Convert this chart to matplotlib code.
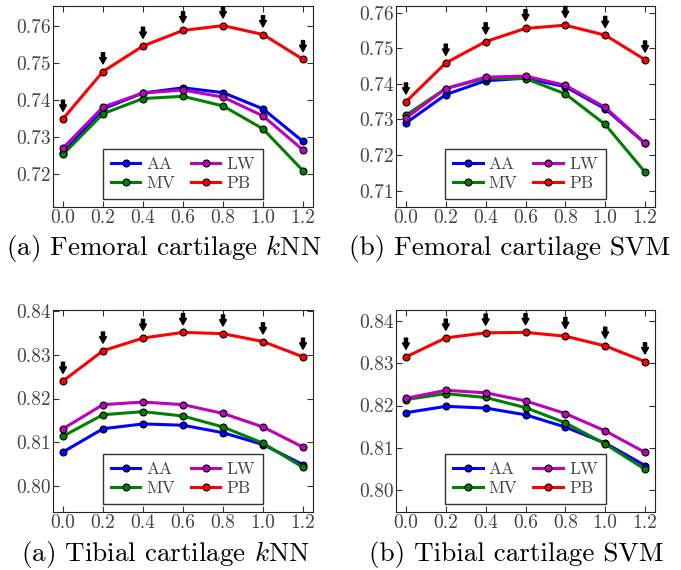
import numpy as np
import matplotlib
matplotlib.use("Agg")
import matplotlib.pyplot as plt

plt.rcParams["font.family"] = ["cmr10", "DejaVu Serif"]
plt.rcParams["mathtext.fontset"] = "cm"
plt.rcParams["axes.formatter.use_mathtext"] = True

# === данные ===
x = [0.0, 0.2, 0.4, 0.6, 0.8, 1.0, 1.2]
xticks = [0.0, 0.2, 0.4, 0.6, 0.8, 1.0, 1.2]

fem_knn_AA = [0.7257, 0.7376, 0.7419, 0.7433, 0.7420, 0.7376, 0.7288]
fem_knn_MV = [0.7253, 0.7363, 0.7404, 0.7410, 0.7384, 0.7322, 0.7209]
fem_knn_LW = [0.7270, 0.7381, 0.7419, 0.7427, 0.7408, 0.7357, 0.7265]
fem_knn_PB = [0.7349, 0.7477, 0.7546, 0.7588, 0.7601, 0.7577, 0.7510]

fem_svm_AA = [0.7290, 0.7370, 0.7409, 0.7416, 0.7392, 0.7330, 0.7233]
fem_svm_MV = [0.7312, 0.7387, 0.7416, 0.7415, 0.7372, 0.7286, 0.7152]
fem_svm_LW = [0.7304, 0.7387, 0.7419, 0.7422, 0.7396, 0.7334, 0.7233]
fem_svm_PB = [0.7350, 0.7459, 0.7519, 0.7556, 0.7565, 0.7537, 0.7468]

tib_knn_AA = [0.8078, 0.8131, 0.8142, 0.8139, 0.8122, 0.8095, 0.8049]
tib_knn_MV = [0.8114, 0.8163, 0.8170, 0.8160, 0.8135, 0.8098, 0.8043]
tib_knn_LW = [0.8131, 0.8186, 0.8192, 0.8186, 0.8166, 0.8135, 0.8089]
tib_knn_PB = [0.8240, 0.8309, 0.8338, 0.8351, 0.8348, 0.8330, 0.8295]

tib_svm_AA = [0.8183, 0.8198, 0.8194, 0.8178, 0.8149, 0.8111, 0.8058]
tib_svm_MV = [0.8214, 0.8228, 0.8219, 0.8195, 0.8159, 0.8109, 0.8049]
tib_svm_LW = [0.8217, 0.8236, 0.8230, 0.8211, 0.8181, 0.8140, 0.8089]
tib_svm_PB = [0.8315, 0.8360, 0.8372, 0.8373, 0.8364, 0.8341, 0.8304]

fem_knn_yticks = [0.72, 0.73, 0.74, 0.75, 0.76]
fem_svm_yticks = [0.71, 0.72, 0.73, 0.74, 0.75, 0.76]
tib_yticks = [0.80, 0.81, 0.82, 0.83, 0.84]

captions = [r"(a) Femoral cartilage $k$NN", "(b) Femoral cartilage SVM",
            r"(a) Tibial cartilage $k$NN", "(b) Tibial cartilage SVM"]

panels = [
    (fem_knn_AA, fem_knn_MV, fem_knn_LW, fem_knn_PB, fem_knn_yticks, (0.7111, 0.7654)),
    (fem_svm_AA, fem_svm_MV, fem_svm_LW, fem_svm_PB, fem_svm_yticks, (0.7054, 0.7619)),
    (tib_knn_AA, tib_knn_MV, tib_knn_LW, tib_knn_PB, tib_yticks, (0.7941, 0.8402)),
    (tib_svm_AA, tib_svm_MV, tib_svm_LW, tib_svm_PB, tib_yticks, (0.7948, 0.8426)),
]

# положение осей в пикселях (left, top, right, bottom)
boxes = [(53, 6, 313, 207), (396, 6, 655, 207), (53, 310, 313, 512), (396, 310, 655, 512)]
cap_pos = [(164, 248), (510, 248), (165, 554), (516, 554)]

W, H = 681, 570
fig = plt.figure(figsize=(W / 100, H / 100), dpi=100)

for i, (AA, MV, LW, PB, yt, ylim) in enumerate(panels):
    l, t, r, b = boxes[i]
    ax = fig.add_axes([l / W, 1 - b / H, (r - l) / W, (b - t) / H])
    kw = dict(lw=2.2, marker="o", ms=5, mec="black", mew=0.8)
    ax.plot(x, AA, color="blue", label="AA", **kw)
    ax.plot(x, MV, color="green", label="MV", **kw)
    ax.plot(x, LW, color="m", label="LW", **kw)
    ax.plot(x, PB, color="red", label="PB", **kw)

    # стрелки над PB
    for xi, yi in zip(x, PB):
        ax.annotate("", xy=(xi, yi), xytext=(0, 13.5), textcoords="offset points",
                    arrowprops=dict(arrowstyle="simple,head_width=0.55,head_length=0.5,tail_width=0.25",
                                    color="black", shrinkA=0, shrinkB=5.5, mutation_scale=9))

    ax.set_xlim(-0.05, 1.25)
    ax.set_ylim(*ylim)
    ax.set_xticks(xticks)
    ax.set_xticklabels(["%.1f" % v for v in xticks])
    ax.set_yticks(yt)
    ax.set_yticklabels(["%.2f" % v for v in yt])
    ax.tick_params(direction="in", top=True, right=True, length=4, pad=1.5,
                   labelsize=14, labelcolor="#444444", color="#333333")
    for s in ax.spines.values():
        s.set_color("#222222")

    leg = ax.legend(loc="lower center", ncol=2, fontsize=12.5, fancybox=False,
                    handlelength=1.7, columnspacing=0.9, handletextpad=0.35,
                    borderpad=0.45, labelspacing=0.25, borderaxespad=0.45)
    leg.get_frame().set_edgecolor("black")
    for txt in leg.get_texts():
        txt.set_color("#444444")

    cx, cy = cap_pos[i]
    fig.text(cx / W, 1 - cy / H, captions[i], ha="center", va="center", fontsize=19.5)

fig.savefig("out.png", dpi=100)
